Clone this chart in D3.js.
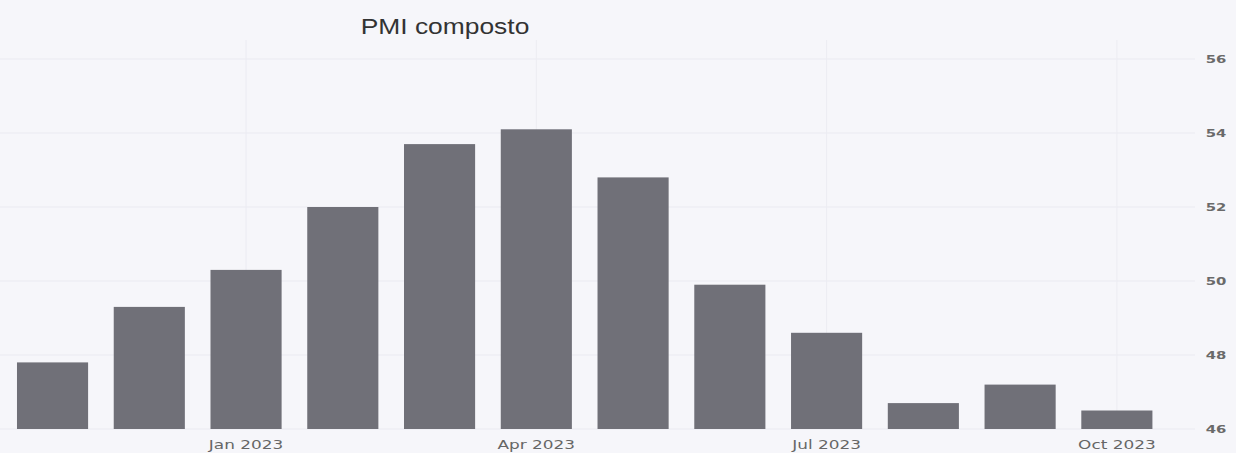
<!DOCTYPE html>
<html>
<head>
<meta charset="utf-8">
<script src="https://cdn.jsdelivr.net/npm/d3@7"></script>
<style>
  html, body { margin: 0; padding: 0; background: #f6f6fa; }
  svg { display: block; }
</style>
</head>
<body>
<svg id="chart" width="1236" height="453"></svg>
<script>
const months = ["2022-11","2022-12","2023-01","2023-02","2023-03","2023-04","2023-05","2023-06","2023-07","2023-08","2023-09","2023-10"];
const pmiValues = [47.8, 49.3, 50.3, 52.0, 53.7, 54.1, 52.8, 49.9, 48.6, 46.7, 47.2, 46.5];
const xTickMonths = ["2023-01","2023-04","2023-07","2023-10"];
const yTicks = [46, 48, 50, 52, 54, 56];
const title = "PMI composto";

const monthNames = ["Jan","Feb","Mar","Apr","May","Jun","Jul","Aug","Sep","Oct","Nov","Dec"];
const fmtMonth = m => { const [y, mo] = m.split("-"); return monthNames[+mo - 1] + " " + y; };

const svg = d3.select("#chart");
const W = 1236, H = 453;

svg.append("rect").attr("width", W).attr("height", H).attr("fill", "#f6f6fa");

const x = d3.scaleBand().domain(months).range([4.4, 1165]).paddingInner(0.265).paddingOuter(0.13);
const y = d3.scaleLinear().domain([46, 56]).range([429, 59]);

// horizontal gridlines
svg.append("g").selectAll("line").data(yTicks).join("line")
  .attr("x1", 0).attr("x2", 1195)
  .attr("y1", d => y(d)).attr("y2", d => y(d))
  .attr("stroke", "#eaeaf1").attr("stroke-width", 1);

// vertical gridlines
svg.append("g").selectAll("line").data(xTickMonths).join("line")
  .attr("x1", d => x(d) + x.bandwidth() / 2).attr("x2", d => x(d) + x.bandwidth() / 2)
  .attr("y1", 40).attr("y2", 429)
  .attr("stroke", "#ececf2").attr("stroke-width", 1);

// bars
svg.append("g").selectAll("rect").data(months).join("rect")
  .attr("x", d => x(d))
  .attr("width", x.bandwidth())
  .attr("y", (d, i) => y(pmiValues[i]))
  .attr("height", (d, i) => y(46) - y(pmiValues[i]))
  .attr("fill", "#707078");

// x axis
const xAxis = d3.axisBottom(x).tickValues(xTickMonths).tickFormat(fmtMonth).tickSize(0).tickPadding(11);
const gx = svg.append("g").attr("transform", "translate(0,429)").call(xAxis);
gx.select(".domain").remove();
gx.selectAll("text")
  .attr("font-family", "DejaVu Sans, sans-serif")
  .attr("font-size", 13)
  .attr("fill", "#666")
  .attr("transform", "scale(1.3,1)");

// y axis (right)
const yAxis = d3.axisRight(y).tickValues(yTicks).tickFormat(d3.format("d")).tickSize(0).tickPadding(0);
const gy = svg.append("g").attr("transform", "translate(1216,0)").call(yAxis);
gy.select(".domain").remove();
gy.selectAll("text")
  .attr("font-family", "DejaVu Sans, sans-serif")
  .attr("font-size", 11)
  .attr("font-weight", "bold")
  .attr("fill", "#6a6a6a")
  .attr("text-anchor", "middle")
  .attr("transform", "scale(1.35,1)")
  .attr("x", 0);

// title
svg.append("text")
  .attr("x", 0).attr("y", 0)
  .attr("transform", "translate(445,34) scale(1.2,1)")
  .attr("text-anchor", "middle")
  .attr("font-family", "Liberation Sans, Arial, sans-serif")
  .attr("font-size", 22)
  .attr("fill", "#333")
  .text(title);
</script>
</body>
</html>
